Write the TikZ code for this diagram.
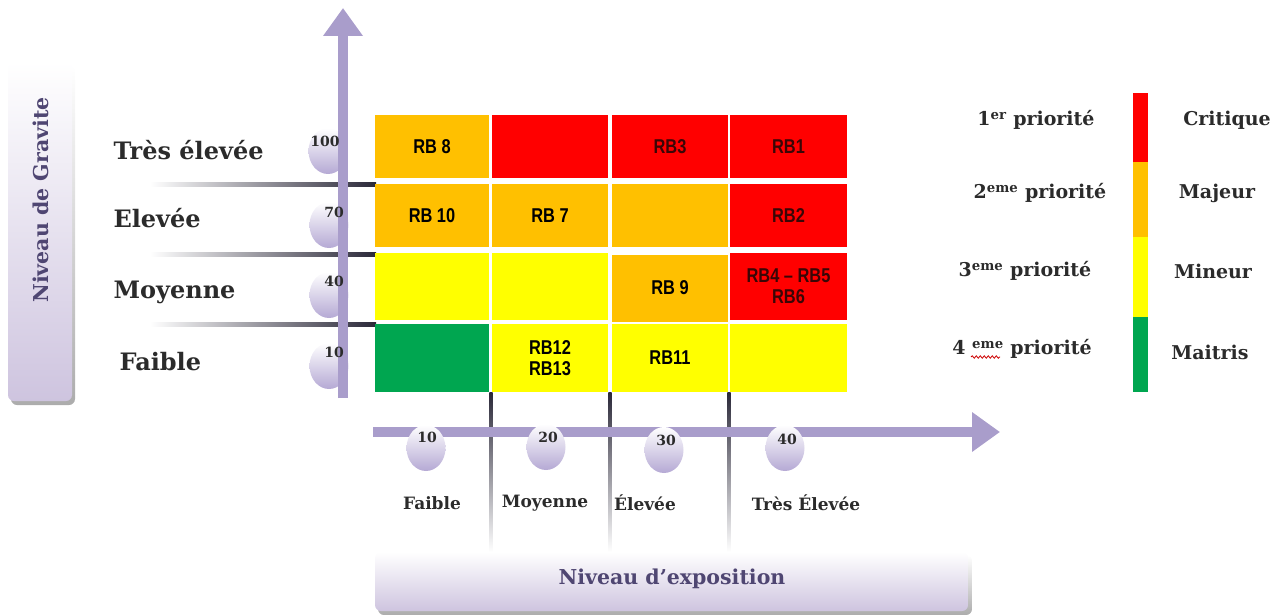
\documentclass[tikz,border=0pt]{standalone}
\usepackage{fontspec}
\setmainfont{DejaVu Serif}
\newfontfamily\cellfont{Liberation Sans}[FakeStretch=0.82]
\usetikzlibrary{arrows.meta,shapes.geometric,decorations.pathmorphing}

\definecolor{axislav}{HTML}{A99DCB}
\definecolor{boxlav}{HTML}{CEC4DF}
\definecolor{bublav}{HTML}{B5A9D4}
\definecolor{titlepurple}{HTML}{4F4672}
\definecolor{rorange}{HTML}{FFC000}
\definecolor{rred}{HTML}{FF0000}
\definecolor{ryellow}{HTML}{FFFF00}
\definecolor{rgreen}{HTML}{00A650}
\definecolor{darkline}{HTML}{2A2838}
\definecolor{labelgray}{HTML}{2B2B2B}
\definecolor{redtext}{HTML}{3A0606}

\tikzset{
  axisline/.style={draw=axislav, line width=10pt,
    -{Triangle[width=38pt,length=28pt]}},
  cell/.style={rectangle, inner sep=0pt, align=center, text=black,
    font=\cellfont\bfseries\fontsize{20}{21}\selectfont},
  redcell/.style={cell, fill=rred, text=redtext},
  bubble/.style={ellipse, minimum width=39pt, minimum height=46pt,
    inner sep=0pt, top color=white, bottom color=bublav},
  ticknum/.style={font=\bfseries\fontsize{14}{16}\selectfont, text=labelgray},
  rowlabel/.style={anchor=west, font=\bfseries\fontsize{24}{26}\selectfont, text=labelgray},
  collabel/.style={font=\bfseries\fontsize{17}{19}\selectfont, text=labelgray},
  legtext/.style={font=\bfseries\fontsize{19}{21}\selectfont, text=labelgray},
  axistitle/.style={font=\bfseries\fontsize{20.5}{23}\selectfont, text=titlepurple},
}

\begin{document}
\begin{tikzpicture}[x=1pt,y=-1pt]
\useasboundingbox (0,0) rectangle (1287,615);

% ---- axis title boxes ----
\shade[rounded corners=6pt, top color=white, bottom color=gray!65]
  (11,65) rectangle (75,405);
\shade[rounded corners=6pt, top color=white, bottom color=boxlav]
  (8,62) rectangle (72,401);
\node[axistitle, rotate=90] (ytitle) at (41,200) {Niveau de Gravite};

\shade[rounded corners=6pt, top color=white, bottom color=gray!65]
  (378,555) rectangle (972,615);
\shade[rounded corners=6pt, top color=white, bottom color=boxlav]
  (375,552) rectangle (968,611);
\node[axistitle] (xtitle) at (672,579) {Niveau d'exposition};

% ---- dark guide lines beside and below the grid ----
\foreach \yy in {184,254,324}
  \shade[left color=white, middle color=darkline!55, right color=darkline]
    (150,\yy-2) rectangle (376,\yy+2);
\foreach \xx in {491,610,729}
  \shade[top color=darkline, middle color=darkline!45, bottom color=white]
    (\xx-1.6,392) rectangle (\xx+1.6,552);

% ---- vertical axis ticks (behind the axis) ----
\node[bubble] (b100) at (328,151) {};
\node[bubble] (b70)  at (329,225) {};
\node[bubble] (b40)  at (329,295) {};
\node[bubble] (b10)  at (329,366) {};

% ---- axes ----
\coordinate (y0) at (343,398);
\coordinate (y1) at (343,8);
\coordinate (x0) at (373,432);
\coordinate (x1) at (1000,432);
\draw[axisline] (y0) -- (y1);
\draw[axisline] (x0) -- (x1);

\node[ticknum] (n100) at (325,141) {100};
\node[ticknum] (n70)  at (334,212) {70};
\node[ticknum] (n40)  at (334,281) {40};
\node[ticknum] (n10)  at (334,352) {10};

% ---- horizontal axis ticks ----
\node[bubble] (h10) at (426,448) {};
\node[bubble] (h20) at (546,447) {};
\node[bubble] (h30) at (664,450) {};
\node[bubble] (h40) at (785,448) {};
\node[ticknum] (m10) at (427,437) {10};
\node[ticknum] (m20) at (548,437) {20};
\node[ticknum] (m30) at (666,440) {30};
\node[ticknum] (m40) at (787,439) {40};

% ---- row and column labels ----
\node[rowlabel] (r4) at (110,150) {Très élevée};
\node[rowlabel] (r3) at (110,218) {Elevée};
\node[rowlabel] (r2) at (110,292) {Moyenne};
\node[rowlabel] (r1) at (116,362) {Faible};

\node[collabel] (k1) at (432,503) {Faible};
\node[collabel] (k2) at (545,503) {Moyenne};
\node[collabel] (k3) at (645,503) {Élevée};
\node[collabel] (k4) at (806,503) {Très Élevée};

% ---- risk matrix ----
% row: très élevée
\node[cell, fill=rorange, minimum width=114pt, minimum height=63pt] (c41) at (432,146.5) {RB 8};
\node[redcell, minimum width=116pt, minimum height=63pt] (c42) at (550,146.5) {};
\node[redcell, minimum width=116pt, minimum height=63pt] (c43) at (670,146.5) {RB3};
\node[redcell, minimum width=117pt, minimum height=63pt] (c44) at (788.5,146.5) {RB1};
% row: élevée
\node[cell, fill=rorange, minimum width=114pt, minimum height=63pt] (c31) at (432,215.5) {RB 10};
\node[cell, fill=rorange, minimum width=116pt, minimum height=63pt] (c32) at (550,215.5) {RB 7};
\node[cell, fill=rorange, minimum width=116pt, minimum height=63pt] (c33) at (670,215.5) {};
\node[redcell, minimum width=117pt, minimum height=63pt] (c34) at (788.5,215.5) {RB2};
% row: moyenne
\node[cell, fill=ryellow, minimum width=114pt, minimum height=67pt] (c21) at (432,286.5) {};
\node[cell, fill=ryellow, minimum width=116pt, minimum height=67pt] (c22) at (550,286.5) {};
\node[cell, fill=rorange, minimum width=116pt, minimum height=67pt] (c23) at (670,288) {RB 9};
\node[redcell, minimum width=117pt, minimum height=67pt] (c24) at (788.5,286.5) {RB4 – RB5\\RB6};
% row: faible
\node[cell, fill=rgreen, minimum width=114pt, minimum height=68pt] (c11) at (432,358) {};
\node[cell, fill=ryellow, minimum width=116pt, minimum height=68pt] (c12) at (550,358) {RB12\\RB13};
\node[cell, fill=ryellow, minimum width=116pt, minimum height=68pt] (c13) at (670,358) {RB11};
\node[cell, fill=ryellow, minimum width=117pt, minimum height=68pt] (c14) at (788.5,358) {};

% ---- legend ----
\fill[rred]    (1133,93)  rectangle (1148,162);
\fill[rorange] (1133,162) rectangle (1148,237);
\fill[ryellow] (1133,237) rectangle (1148,317);
\fill[rgreen]  (1133,317) rectangle (1148,392);

\node[legtext] (p1) at (1036,120) {1\textsuperscript{er} priorité};
\node[legtext] (p2) at (1040,193) {2\textsuperscript{eme} priorité};
\node[legtext] (p3) at (1025,271) {3\textsuperscript{eme} priorité};
\node[legtext] (p4) at (1022,349) {4 \textsuperscript{eme} priorité};
\draw[red!80!black, line width=0.8pt,
  decorate, decoration={snake, amplitude=1.2pt, segment length=4pt}]
  (971,357) -- (1000,357);

\node[legtext] (q1) at (1227,120) {Critique};
\node[legtext] (q2) at (1217,193) {Majeur};
\node[legtext] (q3) at (1213,271) {Mineur};
\node[legtext] (q4) at (1210,352) {Maitris};
\end{tikzpicture}
\end{document}
